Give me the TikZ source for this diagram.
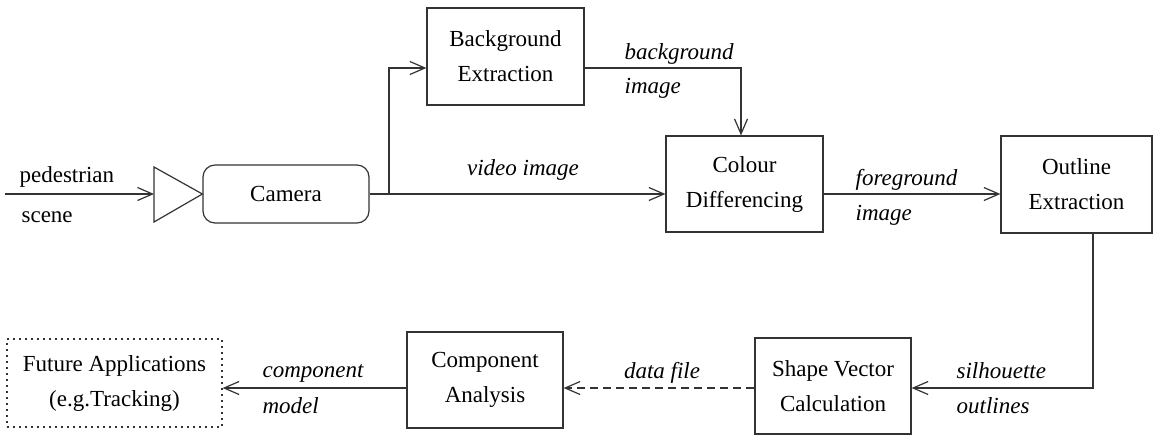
\documentclass[tikz,border=0pt]{standalone}
\usepackage{fontspec}
\setmainfont{Liberation Serif}
\usetikzlibrary{arrows.meta,calc}
\begin{document}
\begin{tikzpicture}[x=0.5pt,y=-0.5pt,
  line width=0.6pt,
  every node/.style={font=\fontsize{11.5}{17.5}\selectfont},
  box/.style={draw=black!80,line width=0.6pt,rectangle,align=center,inner sep=0pt},
  conn/.style={draw=black!80,-{Straight Barb[length=7.5pt,width=6.5pt,line width=0.6pt]}},
  lbl/.style={anchor=base west,inner sep=0pt,font=\fontsize{11.5}{14}\selectfont\itshape},
  plbl/.style={anchor=base west,inner sep=0pt}]
\useasboundingbox (0,0) rectangle (1154,436);
% boxes
\node[box,minimum width=78.5pt,minimum height=48.5pt] (bg) at (505.5,56.5) {Background\\Extraction};
\node[box,minimum width=78.5pt,minimum height=48pt] (col) at (744.5,184) {Colour\\Differencing};
\node[box,minimum width=75.5pt,minimum height=48.5pt] (out) at (1076.5,184.5) {Outline\\Extraction};
\node[box,minimum width=78pt,minimum height=48pt] (shp) at (833,386) {Shape Vector\\Calculation};
\node[box,minimum width=78pt,minimum height=48pt] (cmp) at (485,380) {Component\\Analysis};
\node[box,dash pattern=on 1pt off 2pt,minimum width=107.5pt,minimum height=44pt] (fut) at (114.5,383) {Future Applications\\(e.g.Tracking)};
\node[box,rounded corners=6pt,minimum width=83pt,minimum height=29pt] (cam) at (286,194) {Camera};
% triangle
\coordinate (tl) at (154,194);
\draw[black!80] (154,167) -- (cam.west) -- (154,222) -- cycle;
% connectors
\coordinate (in) at (5,194);
\draw[conn] (in) -- (tl);
\draw[conn] (cam.east) -- (cam.east -| col.west);
\coordinate (br) at (389,194);
\coordinate (bgin) at ($(bg.west)+(0,11.5)$);
\draw[conn] (br) |- (bgin);
\coordinate (bgout) at ($(bg.east)+(0,11.5)$);
\draw[conn] (bgout) -| ($(col.north)+(-3.5,0)$);
\draw[conn] (cam.east -| col.east) -- (cam.east -| out.west);
\coordinate (outb) at ($(out.south)+(16.5,0)$);
\coordinate (outc) at (outb |- 0,388);
\draw[conn] (outb) -- (outc) -- (outc -| shp.east);
\draw[conn,dash pattern=on 4pt off 2.5pt] (outc -| shp.west) -- (outc -| cmp.east);
\draw[conn] (outc -| cmp.west) -- (outc -| fut.east);
% labels
\node[plbl] (l1) at (19,182) {pedestrian};
\node[plbl] (l2) at (21,222) {scene};
\node[lbl,anchor=base] (l3) at (523,175) {video image};
\node[lbl] (l4) at (624,59) {background};
\node[lbl] (l5) at (624,93) {image};
\node[lbl] (l6) at (855,185) {foreground};
\node[lbl] (l7) at (855,220) {image};
\node[lbl] (l8) at (956,378) {silhouette};
\node[lbl] (l9) at (956,413) {outlines};
\node[lbl,anchor=base] (l10) at (662,378) {data file};
\node[lbl] (l11) at (262,377) {component};
\node[lbl] (l12) at (262,413) {model};
\end{tikzpicture}
\end{document}
